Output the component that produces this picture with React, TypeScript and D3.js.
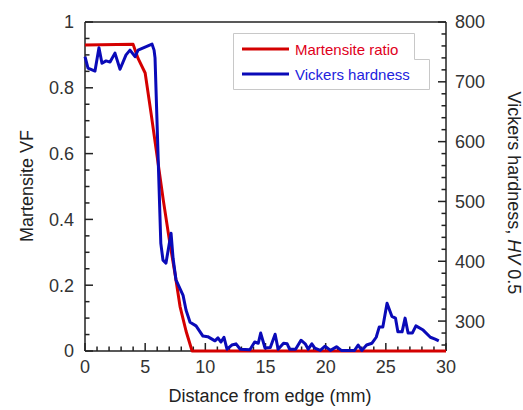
import React from "react";
import * as d3 from "d3";

const redDist = [0, 4.0, 4.4, 5.0, 5.5, 6.0, 6.5, 7.0, 7.5, 7.9, 8.4, 8.9, 30];
const martensite = [0.93, 0.932, 0.89, 0.845, 0.72, 0.59, 0.46, 0.34, 0.23, 0.135, 0.06, 0, 0];

const hvDist = [
  0, 0.25, 0.83, 1.16, 1.41, 1.75, 2.08, 2.49, 2.91, 3.41, 3.74, 4.16, 4.41, 4.99, 5.57, 5.74,
  5.82, 6.3, 6.48, 6.73, 7.15, 7.32, 7.56, 8.15, 8.4, 8.73, 9.23, 9.8, 10.2, 10.8, 11.05, 11.3,
  11.55, 11.8, 12.2, 12.55, 12.9, 13.7, 14.1, 14.4, 14.6, 14.96, 15.4, 15.8, 16.05, 16.5, 16.8,
  17.0, 17.5, 17.95, 18.3, 18.55, 18.85, 19.1, 19.55, 19.95, 20.4, 20.9, 21.3, 22.4, 22.7, 23.0,
  23.4, 23.85, 24.2, 24.45, 24.75, 25.1, 25.5, 25.8, 26.0, 26.35, 26.6, 26.85, 27.2, 27.5, 28.1,
  28.7, 29.1, 29.4,
];
const hardness = [
  742, 723, 718, 757, 731, 735, 733, 748, 721, 745, 753, 742, 753, 758, 763, 753,
  740, 430, 402, 397, 447, 405, 369, 343, 318, 298, 292, 275, 274, 267, 272, 265,
  273, 253, 260, 262, 253, 252, 265, 263, 280, 255, 256, 278, 253, 263, 262,
  253, 253, 268, 262, 253, 262, 255, 251, 258, 251, 257, 251, 251, 260, 251,
  260, 263, 273, 290, 290, 330, 308, 305, 282, 282, 305, 280, 280, 292, 285,
  273, 270, 267,
];

const xTicks = [0, 5, 10, 15, 20, 25, 30];
const leftTicks = [0, 0.2, 0.4, 0.6, 0.8, 1];
const rightTicks = [300, 400, 500, 600, 700, 800];

const seriesNames = ["Martensite ratio", "Vickers hardness"];

const L = 85, R = 446, T = 22, B = 351;
const RED = "#d40000";
const BLUE = "#0a0ab8";
const AXIS = "#222";
const FONT = "'Liberation Sans', Arial, Helvetica, sans-serif";

export default function App() {
  const x = d3.scaleLinear().domain([0, 30]).range([L, R]);
  const yL = d3.scaleLinear().domain([0, 1]).range([B, T]);
  const yR = d3.scaleLinear().domain([250, 800]).range([B, T]);

  const redLine = d3
    .line<number>()
    .x((_, i) => x(redDist[i]))
    .y((d) => yL(d));
  const blueLine = d3
    .line<number>()
    .x((_, i) => x(hvDist[i]))
    .y((d) => yR(d));

  const xMinor = d3.range(0, 31, 1).filter((v) => v % 5 !== 0);
  const leftMinor = d3.range(0, 21).map((i) => i * 0.05).filter((_, i) => i % 4 !== 0);
  const rightMinor = d3.range(260, 800, 20).filter((v) => v % 100 !== 0);

  return (
    <svg
      width={523}
      height={410}
      style={{ position: "absolute", left: 0, top: 0, background: "#fff" }}
      fontFamily={FONT}
    >
      {/* top border */}
      <line x1={L} x2={R} y1={T} y2={T} stroke={AXIS} strokeWidth={1.5} />
      {/* left axis */}
      <line x1={L} x2={L} y1={T} y2={B} stroke={AXIS} strokeWidth={1.5} />
      {/* right axis */}
      <line x1={R} x2={R} y1={T} y2={B} stroke={AXIS} strokeWidth={1.5} />
      {/* bottom axis */}
      <line x1={L} x2={R} y1={B} y2={B} stroke={AXIS} strokeWidth={1.5} />

      {xTicks.map((t) => (
        <g key={"xt" + t}>
          <line x1={x(t)} x2={x(t)} y1={B} y2={B - 8} stroke={AXIS} strokeWidth={1.5} />
          <text x={x(t)} y={373} textAnchor="middle" fontSize={18} fill="#333">
            {t}
          </text>
        </g>
      ))}
      {xMinor.map((t) => (
        <line key={"xm" + t} x1={x(t)} x2={x(t)} y1={B} y2={B - 4.5} stroke={AXIS} strokeWidth={1.5} />
      ))}

      {leftTicks.map((t) => (
        <g key={"lt" + t}>
          <line x1={L} x2={L + 8} y1={yL(t)} y2={yL(t)} stroke={AXIS} strokeWidth={1.5} />
          <text x={74} y={yL(t)} dy="0.36em" textAnchor="end" fontSize={18} fill="#333">
            {d3.format("~g")(t)}
          </text>
        </g>
      ))}
      {leftMinor.map((t, i) => (
        <line key={"lm" + i} x1={L} x2={L + 4.5} y1={yL(t)} y2={yL(t)} stroke={AXIS} strokeWidth={1.5} />
      ))}

      {rightTicks.map((t) => (
        <g key={"rt" + t}>
          <line x1={R} x2={R - 8} y1={yR(t)} y2={yR(t)} stroke={AXIS} strokeWidth={1.5} />
          <text x={455} y={yR(t)} dy="0.36em" textAnchor="start" fontSize={18} fill="#333">
            {t}
          </text>
        </g>
      ))}
      {rightMinor.map((t) => (
        <line key={"rm" + t} x1={R} x2={R - 4.5} y1={yR(t)} y2={yR(t)} stroke={AXIS} strokeWidth={1.5} />
      ))}

      {/* series */}
      <path d={redLine(martensite) || ""} fill="none" stroke={RED} strokeWidth={3} strokeLinejoin="round" />
      <path d={blueLine(hardness) || ""} fill="none" stroke={BLUE} strokeWidth={3} strokeLinejoin="round" />

      {/* legend */}
      <path d="M233.5,33.5 H414.5 V59.5 H429.5 V89.5 H233.5 Z" fill="#fff" stroke="#c8c8c8" strokeWidth={1} />
      <line x1={242} x2={289} y1={49} y2={49} stroke={RED} strokeWidth={3} />
      <text x={295} y={54.5} fontSize={15} fill="#e0001b">
        {seriesNames[0]}
      </text>
      <line x1={242} x2={289} y1={74} y2={74} stroke={BLUE} strokeWidth={3} />
      <text x={295} y={79.5} fontSize={15} fill="#2222dd">
        {seriesNames[1]}
      </text>

      {/* axis titles */}
      <text x={270} y={402} textAnchor="middle" fontSize={18} fill="#222">
        Distance from edge (mm)
      </text>
      <text transform="translate(33,186) rotate(-90)" textAnchor="middle" fontSize={18} fill="#222">
        Martensite VF
      </text>
      <text transform="translate(508,193) rotate(90)" textAnchor="middle" fontSize={18} fill="#222">
        Vickers hardness, <tspan fontStyle="italic">HV</tspan> 0.5
      </text>
    </svg>
  );
}
